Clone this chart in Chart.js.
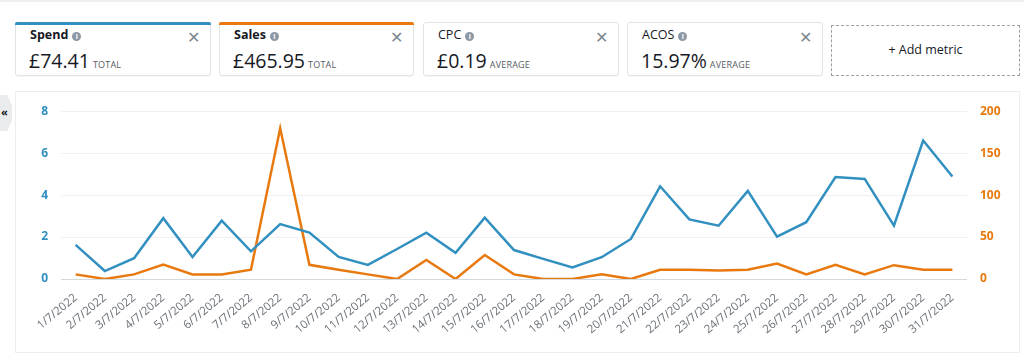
<!DOCTYPE html>
<html>
<head>
<meta charset="utf-8">
<script src="https://cdn.jsdelivr.net/npm/chart.js@4/dist/chart.umd.min.js"></script>
<style>
  html, body { margin: 0; padding: 0; background: #fff; }
  body { width: 1024px; height: 363px; position: relative; overflow: hidden; font-family: "Open Sans", "Noto Sans", sans-serif; color: #16191f; }
  .topline { position: absolute; left: 0; top: 0; width: 1024px; height: 2px; background: #eef0f0; }
  .card { position: absolute; top: 22px; height: 54px; box-sizing: border-box; border: 1px solid #e1e4e6; border-radius: 3px; background: #fff; box-shadow: 0 1px 1px rgba(0,0,0,0.04); }
  .card .bar { position: absolute; left: -1px; right: -1px; top: -1px; height: 3px; border-radius: 2px 2px 0 0; }
  .card .title { position: absolute; left: 14px; top: 3px; font-size: 12.5px; }
  .card .title.bold { font-weight: bold; }
  .card .info { display: inline-block; width: 9px; height: 9px; border-radius: 50%; background: #8d98a5; color: #fff; font-size: 7px; line-height: 9px; text-align: center; font-weight: bold; margin-left: 4px; vertical-align: 0px; }
  .card .close { position: absolute; right: 10px; top: 3px; font-size: 16px; color: #7d8790; }
  .card .value { position: absolute; left: 13px; top: 24px; font-size: 19.5px; white-space: nowrap; }
  .card .value small { font-size: 9px; color: #545b64; margin-left: 3px; letter-spacing: 0.2px; }
  .add { position: absolute; left: 831px; top: 25px; width: 189px; height: 51px; box-sizing: border-box; border: 1px dashed #9aa0a6; text-align: center; line-height: 48px; font-size: 12.5px; }
  .panel { position: absolute; left: 15px; top: 91px; width: 1005px; height: 262px; box-sizing: border-box; border: 1px solid #eceeee; }
  .tab { position: absolute; left: 0; top: 95px; width: 12px; height: 36px; background: #e9ebed; clip-path: polygon(0 0, 60% 0, 100% 30%, 100% 70%, 60% 100%, 0 100%); font-size: 11px; font-weight: bold; line-height: 34px; text-align: left; padding-left: 1px; box-sizing: border-box; }
  #wrap { position: absolute; left: 0; top: 91px; width: 1024px; height: 262px; }
</style>
</head>
<body>
<div class="topline"></div>

<div class="card" style="left:15px;width:196px;">
  <div class="bar" style="background:#3290c0;"></div>
  <div class="title bold">Spend<span class="info">i</span></div>
  <div class="close">&#x2715;</div>
  <div class="value">£74.41<small>TOTAL</small></div>
</div>
<div class="card" style="left:219px;width:195px;">
  <div class="bar" style="background:#e8790f;"></div>
  <div class="title bold">Sales<span class="info">i</span></div>
  <div class="close">&#x2715;</div>
  <div class="value">£465.95<small>TOTAL</small></div>
</div>
<div class="card" style="left:423px;width:196px;">
  <div class="title">CPC<span class="info">i</span></div>
  <div class="close">&#x2715;</div>
  <div class="value">£0.19<small>AVERAGE</small></div>
</div>
<div class="card" style="left:627px;width:196px;">
  <div class="title">ACOS<span class="info">i</span></div>
  <div class="close">&#x2715;</div>
  <div class="value">15.97%<small>AVERAGE</small></div>
</div>
<div class="add">+ Add metric</div>

<div class="panel"></div>
<div class="tab">«</div>

<div id="wrap"><canvas id="chart"></canvas></div>

<script>
// days of July 2022
const days = [];
for (let d = 1; d <= 31; d++) days.push(d + '/7/2022');

// Spend (£, left axis)
const spend = [1.63, 0.38, 0.99, 2.9, 1.05, 2.78, 1.32, 2.62, 2.21, 1.05, 0.67, 1.43, 2.21, 1.25, 2.92, 1.38,
  0.96, 0.55, 1.04, 1.91, 4.42, 2.84, 2.54, 4.2, 2.02, 2.71, 4.86, 4.77, 2.54, 6.6, 4.89];

// Sales (£, right axis)
const sales = [5.5, 0, 5.5, 17.3, 5.5, 5.5, 11, 179.6, 16.9, 11, 5.5, 0, 22.7, 0, 28.6, 5.5,
  0, 0, 5.5, 0, 11, 11, 10.2, 11, 18.4, 5.5, 16.9, 5.5, 16.5, 11, 11];

const leftTicks = [0, 2, 4, 6, 8];
const rightTicks = [0, 50, 100, 150, 200];

const blue = '#3290c0';
const orange = '#e8790f';

const ctx = document.getElementById('chart').getContext('2d');
new Chart(ctx, {
  type: 'line',
  data: {
    labels: days,
    datasets: [
      { label: 'Spend', data: spend, yAxisID: 'y', borderColor: blue, borderWidth: 2.5, pointRadius: 0, tension: 0 },
      { label: 'Sales', data: sales, yAxisID: 'y1', borderColor: orange, borderWidth: 2.5, pointRadius: 0, tension: 0 }
    ]
  },
  options: {
    responsive: true,
    maintainAspectRatio: false,
    animation: false,
    layout: { padding: { left: 0, right: 0, top: 0, bottom: 0 } },
    plugins: { legend: { display: false }, tooltip: { enabled: false } },
    scales: {
      x: {
        offset: true,
        grid: { display: false },
        border: { display: false },
        ticks: {
          color: '#6b7178',
          font: { family: 'Open Sans', size: 11.5 },
          minRotation: 40,
          maxRotation: 40,
          autoSkip: false,
          padding: 4
        },
        afterFit: s => { s.height = 74; }
      },
      y: {
        position: 'left',
        min: 0,
        max: 8,
        afterBuildTicks: s => { s.ticks = leftTicks.map(v => ({ value: v })); },
        grid: {
          drawTicks: false,
          color: c => c.tick && c.tick.value === 0 ? '#d3dadf' : '#eef0f1',
          lineWidth: 1
        },
        border: { display: false },
        ticks: { color: blue, font: { family: 'Open Sans', size: 12, weight: 'bold' }, padding: 13 },
        afterFit: s => { s.width = 61; }
      },
      y1: {
        position: 'right',
        min: 0,
        max: 200,
        afterBuildTicks: s => { s.ticks = rightTicks.map(v => ({ value: v })); },
        grid: { display: false, drawTicks: false },
        border: { display: false },
        ticks: { color: orange, font: { family: 'Open Sans', size: 12, weight: 'bold' }, padding: 13 },
        afterFit: s => { s.width = 57; }
      }
    }
  }
});
</script>
</body>
</html>
